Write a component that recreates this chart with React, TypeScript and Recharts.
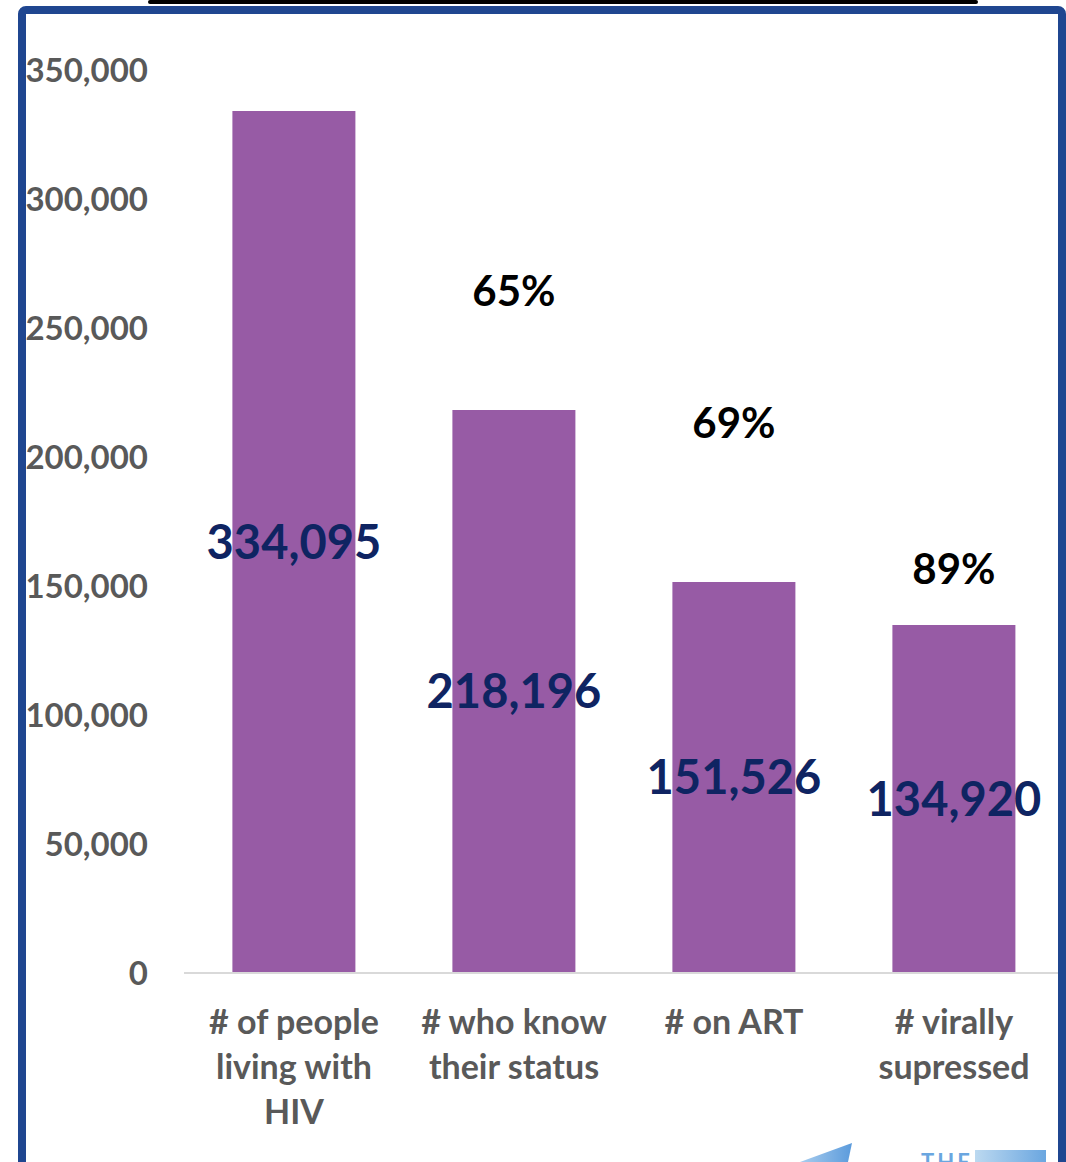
import { Bar, BarChart, LabelList, XAxis, YAxis } from "recharts";

const categories = ["# of people\nliving with\nHIV", "# who know\ntheir status", "# on ART", "# virally\nsupressed"];
const people = [334095, 218196, 151526, 134920];
const percents = ["", "65%", "69%", "89%"];
const yTicks = [0, 50000, 100000, 150000, 200000, 250000, 300000, 350000];

const data = categories.map((name, i) => ({ name, people: people[i], pct: percents[i] }));

const font = "Lato, 'Open Sans', sans-serif";
// how far above each bar top the percentage sits (px)
const pctLift = [0, 120, 160, 57];

function CategoryTick({ x, y, payload }: any) {
  const lines = String(payload.value).split("\n");
  return (
    <text x={x} y={y + 61} textAnchor="middle" fill="#595959" fontFamily={font} fontWeight={700} fontSize={34}>
      {lines.map((line, i) => (
        <tspan key={i} x={x} dy={i === 0 ? 0 : 45}>
          {line}
        </tspan>
      ))}
    </text>
  );
}

function PctLabel(props: any) {
  const { x, y, width, index } = props;
  const text = percents[index];
  if (!text) return null;
  return (
    <text x={x + width / 2} y={y - pctLift[index]} textAnchor="middle" dominantBaseline="central" fill="#000" fontFamily={font} fontWeight={700} fontSize={42}>
      {text}
    </text>
  );
}

export default function App() {
  return (
    <div style={{ position: "absolute", left: 0, top: 0, width: 1066, height: 1162, background: "#fff", overflow: "hidden" }}>
      <BarChart width={1066} height={1162} data={data} margin={{ top: 70, right: 2, bottom: 0, left: 0 }} barCategoryGap="22%">
        <XAxis dataKey="name" height={189} tickLine={false} tickSize={0} tickMargin={0} stroke="#d9d9d9" strokeWidth={2} interval={0} tick={<CategoryTick />} />
        <YAxis
          width={184}
          domain={[0, 350000]}
          ticks={yTicks}
          axisLine={false}
          tickLine={false}
          tickSize={0}
          tickMargin={36}
          tickFormatter={(v: number) => v.toLocaleString("en-US")}
          tick={{ fill: "#595959", fontFamily: font, fontWeight: 700, fontSize: 33 }}
        />
        <Bar dataKey="people" fill="#975ba5" isAnimationActive={false}>
          <LabelList
            dataKey="people"
            position="center"
            formatter={(v: any) => Number(v).toLocaleString("en-US")}
            fill="#0f2462"
            fontFamily={font}
            fontWeight={700}
            fontSize={47}
          />
          <LabelList dataKey="pct" content={<PctLabel />} />
        </Bar>
      </BarChart>
      <svg width={1066} height={1162} style={{ position: "absolute", left: 0, top: 0, pointerEvents: "none" }}>
        <defs>
          <linearGradient id="logoA" x1="0" y1="0" x2="1" y2="0">
            <stop offset="0%" stopColor="#a9cdee" />
            <stop offset="100%" stopColor="#5b9bdc" />
          </linearGradient>
          <linearGradient id="logoB" x1="0" y1="0" x2="1" y2="0">
            <stop offset="0%" stopColor="#bcd9f0" />
            <stop offset="100%" stopColor="#6aa6e0" />
          </linearGradient>
        </defs>
        <rect x={148} y={0} width={830} height={4} rx={2} fill="#000" />
        <rect x={22} y={10} width={1040} height={1200} rx={4} fill="none" stroke="#1f4690" strokeWidth={8} />
        <polygon points="800,1162 852,1143 848,1162" fill="url(#logoA)" />
        <text x={921} y={1170} fill="#6aa6e0" fontFamily={font} fontWeight={700} fontSize={22} letterSpacing={3}>
          THE
        </text>
        <rect x={975} y={1150} width={71} height={14} fill="url(#logoB)" />
      </svg>
    </div>
  );
}
